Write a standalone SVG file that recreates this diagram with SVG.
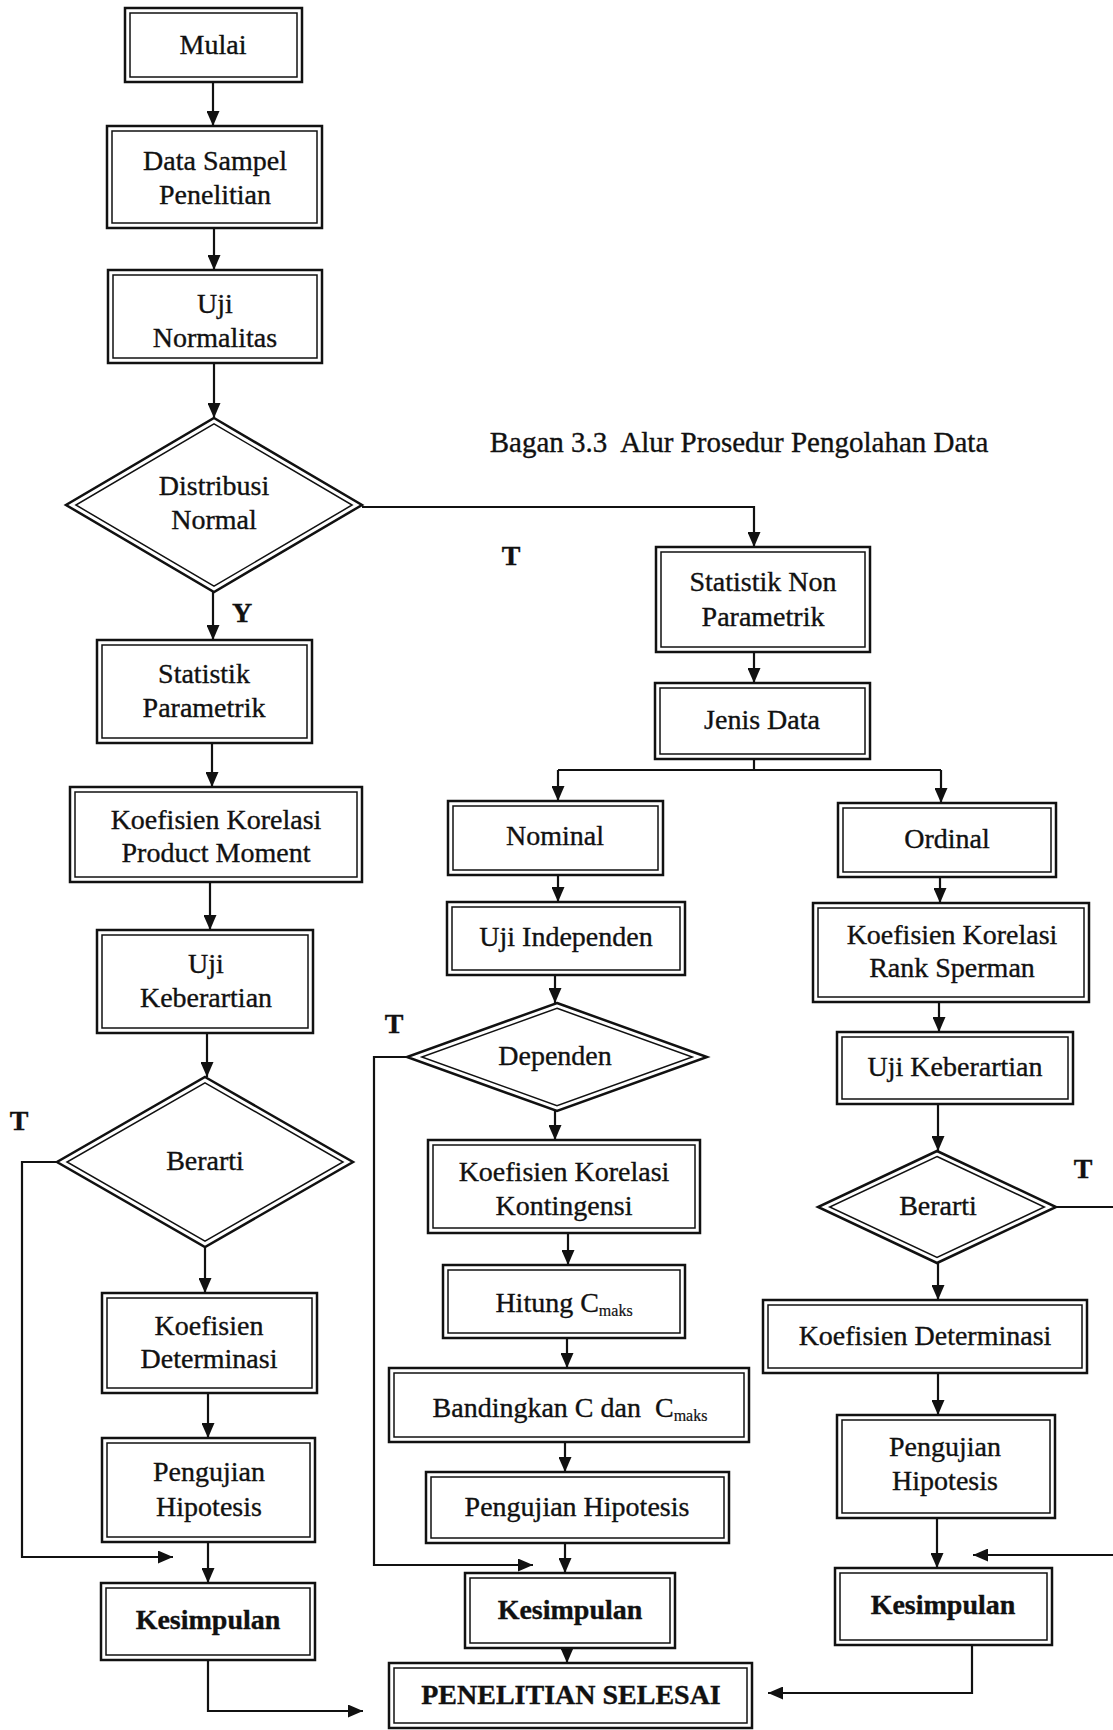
<svg xmlns="http://www.w3.org/2000/svg" width="1113" height="1730" viewBox="0 0 1113 1730">
<style>
.o{fill:#fff;stroke:#111;stroke-width:2.5}
.i{fill:none;stroke:#111;stroke-width:1.5}
.t{font-family:"Liberation Serif","Times New Roman",serif;font-size:28px;fill:#111;stroke:#111;stroke-width:0.35;text-anchor:middle}
.b{font-weight:bold}
.s{font-size:16px;stroke-width:0.2}
.p{white-space:pre}
.c{fill:none;stroke:#111;stroke-width:2.2}
.a{marker-end:url(#ah)}
</style>
<defs>
<marker id="ah" viewBox="0 0 15 13" refX="15" refY="6.5" markerWidth="15" markerHeight="13" markerUnits="userSpaceOnUse" orient="auto">
<path d="M0,0 L15,6.5 L0,13 z" fill="#111"/>
</marker>
</defs>
<rect width="1113" height="1730" fill="#fff"/>

<g id="connectors">
<path class="c a" d="M213,82 V126"/>
<path class="c a" d="M214,228 V270"/>
<path class="c a" d="M214,363 V418"/>
<path class="c a" d="M362,507 H754 V547"/>
<path class="c a" d="M213,592 V640"/>
<path class="c a" d="M212,743 V787"/>
<path class="c a" d="M210,882 V930"/>
<path class="c a" d="M207,1033 V1077"/>
<path class="c a" d="M57,1162 H22 V1557 H173"/>
<path class="c a" d="M205,1247 V1293"/>
<path class="c a" d="M208,1393 V1438"/>
<path class="c a" d="M208,1542 V1583"/>
<path class="c a" d="M208,1660 V1711 H363"/>
<path class="c a" d="M754,652 V683"/>
<path class="c" d="M754,759 V770 M558,770 H941"/>
<path class="c a" d="M558,770 V801"/>
<path class="c a" d="M941,770 V803"/>
<path class="c a" d="M558,875 V902"/>
<path class="c a" d="M555,975 V1003"/>
<path class="c a" d="M407,1057 H374 V1565 H533"/>
<path class="c a" d="M555,1111 V1140"/>
<path class="c a" d="M568,1233 V1265"/>
<path class="c a" d="M567,1338 V1368"/>
<path class="c a" d="M565,1442 V1472"/>
<path class="c a" d="M565,1543 V1573"/>
<path class="c a" d="M567,1648 V1663"/>
<path class="c a" d="M940,877 V903"/>
<path class="c a" d="M939,1002 V1032"/>
<path class="c a" d="M938,1104 V1151"/>
<path class="c" d="M1056,1207 H1113"/>
<path class="c a" d="M938,1263 V1300"/>
<path class="c a" d="M938,1373 V1415"/>
<path class="c a" d="M937,1518 V1568"/>
<path class="c a" d="M1113,1555 H973"/>
<path class="c a" d="M972,1645 V1693 H768"/>
</g>

<g id="labels">
<text class="t b" x="511" y="565">T</text>
<text class="t b" x="242" y="622">Y</text>
<text class="t b" x="19" y="1130">T</text>
<text class="t b" x="394" y="1033">T</text>
<text class="t b" x="1083" y="1178">T</text>
<text class="t p" x="739" y="452" style="font-size:29px">Bagan 3.3  Alur Prosedur Pengolahan Data</text>
</g>

<g id="mulai"><rect class="o" x="125" y="8" width="177" height="74"/><rect class="i" x="130" y="13" width="167" height="64"/><text class="t" x="213" y="54">Mulai</text></g>

<g id="data-sampel"><rect class="o" x="107" y="126" width="215" height="102"/><rect class="i" x="112" y="131" width="205" height="92"/><text class="t" x="215" y="170">Data Sampel</text><text class="t" x="215" y="204">Penelitian</text></g>

<g id="uji-normalitas"><rect class="o" x="108" y="270" width="214" height="93"/><rect class="i" x="113" y="275" width="204" height="83"/><text class="t" x="215" y="313">Uji</text><text class="t" x="215" y="347">Normalitas</text></g>

<g id="distribusi-normal"><polygon class="o" points="214,418 362,505 214,592 66,505"/><polygon class="i" points="214,423.8 352.1,505 214,586.2 75.9,505"/><text class="t" x="214" y="495">Distribusi</text><text class="t" x="214" y="529">Normal</text></g>

<g id="statistik-parametrik"><rect class="o" x="97" y="640" width="215" height="103"/><rect class="i" x="102" y="645" width="205" height="93"/><text class="t" x="204" y="683">Statistik</text><text class="t" x="204" y="717">Parametrik</text></g>

<g id="koefisien-product-moment"><rect class="o" x="70" y="787" width="292" height="95"/><rect class="i" x="75" y="792" width="282" height="85"/><text class="t" x="216" y="829">Koefisien Korelasi</text><text class="t" x="216" y="862">Product Moment</text></g>

<g id="uji-keberartian-1"><rect class="o" x="97" y="930" width="216" height="103"/><rect class="i" x="102" y="935" width="206" height="93"/><text class="t" x="206" y="973">Uji</text><text class="t" x="206" y="1007">Keberartian</text></g>

<g id="berarti-1"><polygon class="o" points="205,1077 353,1162 205,1247 57,1162"/><polygon class="i" points="205,1082.8 343,1162 205,1241.2 67,1162"/><text class="t" x="205" y="1170">Berarti</text></g>

<g id="koefisien-determinasi-1"><rect class="o" x="102" y="1293" width="215" height="100"/><rect class="i" x="107" y="1298" width="205" height="90"/><text class="t" x="209" y="1335">Koefisien</text><text class="t" x="209" y="1368">Determinasi</text></g>

<g id="pengujian-hipotesis-1"><rect class="o" x="102" y="1438" width="213" height="104"/><rect class="i" x="107" y="1443" width="203" height="94"/><text class="t" x="209" y="1481">Pengujian</text><text class="t" x="209" y="1516">Hipotesis</text></g>

<g id="kesimpulan-1"><rect class="o" x="101" y="1583" width="214" height="77"/><rect class="i" x="106" y="1588" width="204" height="67"/><text class="t b" x="208" y="1629">Kesimpulan</text></g>

<g id="statistik-non-parametrik"><rect class="o" x="656" y="547" width="214" height="105"/><rect class="i" x="661" y="552" width="204" height="95"/><text class="t" x="763" y="591">Statistik Non</text><text class="t" x="763" y="626">Parametrik</text></g>

<g id="jenis-data"><rect class="o" x="655" y="683" width="215" height="76"/><rect class="i" x="660" y="688" width="205" height="66"/><text class="t" x="762" y="729">Jenis Data</text></g>

<g id="nominal"><rect class="o" x="448" y="801" width="215" height="74"/><rect class="i" x="453" y="806" width="205" height="64"/><text class="t" x="555" y="845">Nominal</text></g>

<g id="uji-independen"><rect class="o" x="447" y="902" width="238" height="73"/><rect class="i" x="452" y="907" width="228" height="63"/><text class="t" x="566" y="946">Uji Independen</text></g>

<g id="dependen"><polygon class="o" points="557,1003 707,1057 557,1111 407,1057"/><polygon class="i" points="557,1008.3 692.2,1057 557,1105.7 421.8,1057"/><text class="t" x="555" y="1065">Dependen</text></g>

<g id="koefisien-kontingensi"><rect class="o" x="428" y="1140" width="272" height="93"/><rect class="i" x="433" y="1145" width="262" height="83"/><text class="t" x="564" y="1181">Koefisien Korelasi</text><text class="t" x="564" y="1215">Kontingensi</text></g>

<g id="hitung-cmaks"><rect class="o" x="443" y="1265" width="242" height="73"/><rect class="i" x="448" y="1270" width="232" height="63"/><text class="t" x="564" y="1312">Hitung C<tspan class="s" dy="4">maks</tspan></text></g>

<g id="bandingkan"><rect class="o" x="389" y="1368" width="360" height="74"/><rect class="i" x="394" y="1373" width="350" height="64"/><text class="t p" x="570" y="1417">Bandingkan C dan  C<tspan class="s" dy="4">maks</tspan></text></g>

<g id="pengujian-hipotesis-2"><rect class="o" x="426" y="1472" width="303" height="71"/><rect class="i" x="431" y="1477" width="293" height="61"/><text class="t" x="577" y="1516">Pengujian Hipotesis</text></g>

<g id="kesimpulan-2"><rect class="o" x="465" y="1573" width="210" height="75"/><rect class="i" x="470" y="1578" width="200" height="65"/><text class="t b" x="570" y="1619">Kesimpulan</text></g>

<g id="penelitian-selesai"><rect class="o" x="389" y="1663" width="363" height="65"/><rect class="i" x="394" y="1668" width="353" height="55"/><text class="t b" x="571" y="1704">PENELITIAN SELESAI</text></g>

<g id="ordinal"><rect class="o" x="838" y="803" width="218" height="74"/><rect class="i" x="843" y="808" width="208" height="64"/><text class="t" x="947" y="848">Ordinal</text></g>

<g id="koefisien-rank-sperman"><rect class="o" x="813" y="903" width="276" height="99"/><rect class="i" x="818" y="908" width="266" height="89"/><text class="t" x="952" y="944">Koefisien Korelasi</text><text class="t" x="952" y="977">Rank Sperman</text></g>

<g id="uji-keberartian-2"><rect class="o" x="837" y="1032" width="236" height="72"/><rect class="i" x="842" y="1037" width="226" height="62"/><text class="t" x="955" y="1076">Uji Keberartian</text></g>

<g id="berarti-2"><polygon class="o" points="937,1151 1056,1207 937,1263 818,1207"/><polygon class="i" points="937,1156.5 1044.3,1207 937,1257.5 829.7,1207"/><text class="t" x="938" y="1215">Berarti</text></g>

<g id="koefisien-determinasi-2"><rect class="o" x="763" y="1300" width="324" height="73"/><rect class="i" x="768" y="1305" width="314" height="63"/><text class="t" x="925" y="1345">Koefisien Determinasi</text></g>

<g id="pengujian-hipotesis-3"><rect class="o" x="837" y="1415" width="218" height="103"/><rect class="i" x="842" y="1420" width="208" height="93"/><text class="t" x="945" y="1456">Pengujian</text><text class="t" x="945" y="1490">Hipotesis</text></g>

<g id="kesimpulan-3"><rect class="o" x="835" y="1568" width="217" height="77"/><rect class="i" x="840" y="1573" width="207" height="67"/><text class="t b" x="943" y="1614">Kesimpulan</text></g>
</svg>
